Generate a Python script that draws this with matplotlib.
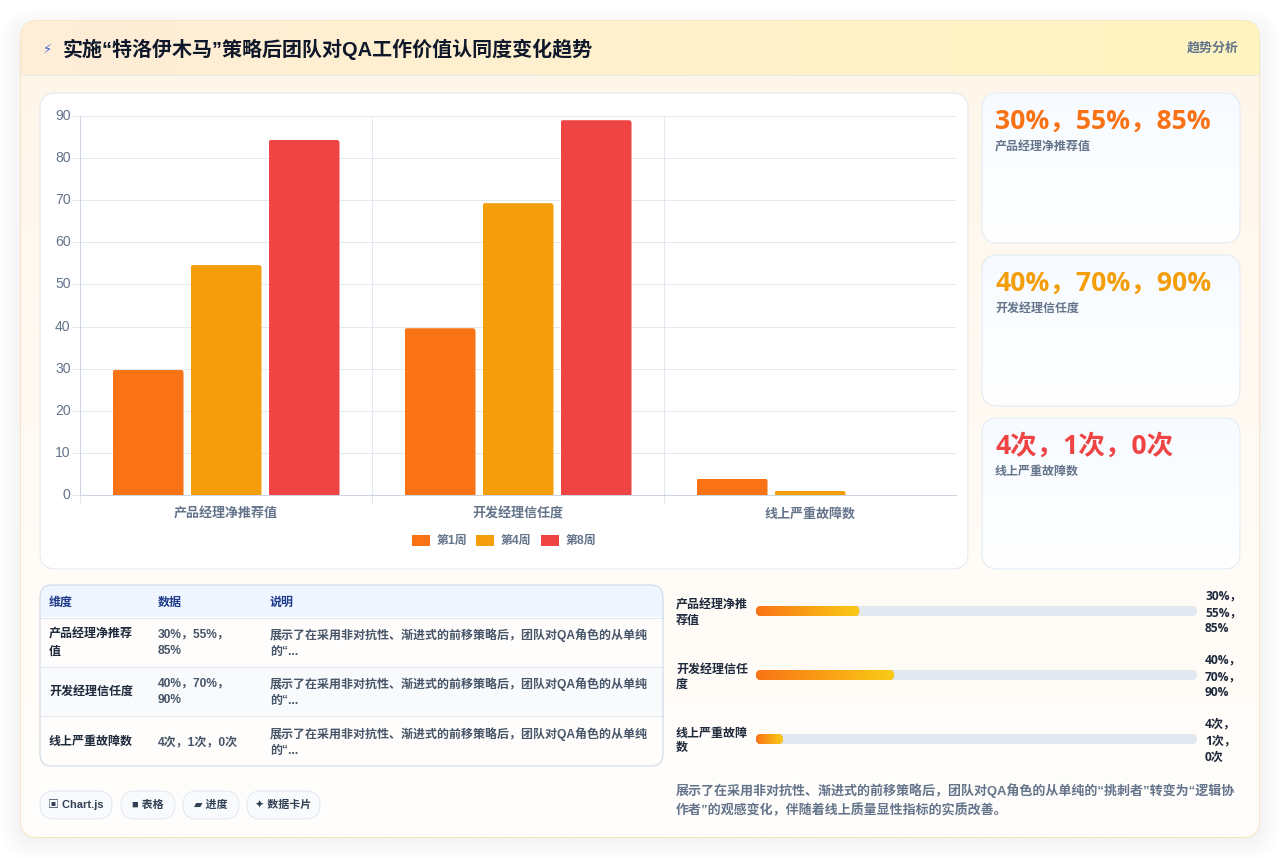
import numpy as np
import matplotlib
matplotlib.use('Agg')
import matplotlib.pyplot as plt
from matplotlib.colors import to_rgb
from matplotlib.patches import FancyBboxPatch, Rectangle
from matplotlib.transforms import ScaledTranslation

# data
categories = ['产品经理净推荐值', '开发经理信任度', '线上严重故障数']
weeks = ['第1周', '第4周', '第8周']
week1 = [29.7, 39.6, 3.9]
week4 = [54.6, 69.3, 1.0]
week8 = [84.3, 89.0, 0.0]
week_colors = ['#f97316', '#f59e0b', '#ef4444']
y_ticks = [0, 10, 20, 30, 40, 50, 60, 70, 80, 90]

card_values = ['30%，55%，85%', '40%，70%，90%', '4次，1次，0次']
progress_pct = [23.4, 31.3, 6.1]
progress_labels = ['产品经理净推\n荐值', '开发经理信任\n度', '线上严重故障\n数']
progress_values = ['30%，\n55%，\n85%', '40%，\n70%，\n90%', '4次，\n1次，\n0次']

table_head = ['维度', '数据', '说明']
table_dim = ['产品经理净推荐\n值', '开发经理信任度', '线上严重故障数']
table_data = ['30%，55%，\n85%', '40%，70%，\n90%', '4次，1次，0次']
table_note = '展示了在采用非对抗性、渐进式的前移策略后，团队对QA角色的从单纯\n的“...'

title = '实施“特洛伊木马”策略后团队对QA工作价值认同度变化趋势'
note = ('展示了在采用非对抗性、渐进式的前移策略后，团队对QA角色的从单纯的“挑刺者”转变为“逻辑协\n'
        '作者”的观感变化，伴随着线上质量显性指标的实质改善。')
pills = ['▣ Chart.js', '■ 表格', '▰ 进度', '✦ 数据卡片']

W, H = 1280, 858
UI = ['Liberation Sans', 'Noto Sans CJK SC', 'DejaVu Sans']
NUM = ['Open Sans', 'Noto Sans CJK SC']
plt.rcParams['font.family'] = UI


def px(n):
    return n * 0.72


fig = plt.figure(figsize=(W / 100, H / 100), dpi=100, facecolor='white')
bg = fig.add_axes([0, 0, 1, 1])
bg.set_xlim(0, W)
bg.set_ylim(H, 0)
bg.axis('off')


def box(x0, y0, x1, y1, r=0, fc='white', ec='none', lw=0.72, alpha=None, z=1):
    p = FancyBboxPatch((x0, y0), x1 - x0, y1 - y0, boxstyle=f'round,pad=0,rounding_size={r}',
                       fc=fc, ec=ec, lw=lw, alpha=alpha, zorder=z)
    bg.add_patch(p)
    return p


def gradient(x0, y0, x1, y1, c0, c1, clip, horizontal=False, z=2):
    t = np.linspace(0, 1, 200)[:, None]
    img = (1 - t) * np.array(to_rgb(c0)) + t * np.array(to_rgb(c1))
    img = img[None, :, :] if horizontal else img[:, None, :]
    im = bg.imshow(img, extent=(x0, x1, y1, y0), aspect='auto', zorder=z, interpolation='bilinear')
    im.set_clip_path(clip)
    bg.set_xlim(0, W)
    bg.set_ylim(H, 0)


def label(x, y, s, size=12, color='#475569', weight='normal', ha='left', va='center', family=None, ls=1.5, z=6):
    bg.text(x, y, s, fontsize=px(size), color=color, fontweight=weight, ha=ha, va=va,
            family=family or UI, linespacing=ls, zorder=z)


# outer card and shadow
for i in range(12):
    box(21 - i * 2, 30 - i * 2, 1259 + i * 2, 837 + i * 2 + 2, 16 + i * 2, fc='#555555', alpha=0.005, z=0.5)
card = box(21, 21, 1259, 837, 16, fc='#fffdfa', ec='#fbdcae', lw=1, z=1)
gradient(21, 21, 1259, 837, '#fff6ea', '#fffefc', card, z=1.1)
gradient(21, 21, 1259, 75, '#ffedd8', '#fef5c0', card, horizontal=True, z=1.2)
bg.plot([21, 1259], [75, 75], color='#e8e8e4', lw=0.72, zorder=2)
label(47, 49, '⚡', size=13, color='#3b5bdb', ha='center', family=['DejaVu Sans'])
label(63, 49, title, size=20, color='#0f172a', weight='bold')
label(1239, 48.5, '趋势分析', size=13, color='#64748b', weight='bold', ha='right')

# chart panel
box(40, 93, 968, 569, 16, fc='white', ec='#e2e8f0', z=2)

# stat cards
for (top, bottom), value, name, color in zip([(93, 243), (255, 406), (418, 569)], card_values, categories, week_colors):
    c = box(982, top, 1240, bottom, 16, fc='white', z=2)
    gradient(982, top, 1240, bottom, '#f7fbff', '#ffffff', c, z=2.1)
    box(982, top, 1240, bottom, 16, fc='none', ec='#e0eaf4', z=2.2)
    label(995, top + 28.5, value, size=26.5, color=color, weight='bold', family=NUM)
    label(995, top + 54, name, size=12, color='#64748b', weight='bold')

# table
tb = box(40, 585, 663, 766, 12, fc='white', z=2)
for y0, y1, fc in [(585, 617, '#eff6ff'), (617, 666, '#fffdfb'), (666, 715, '#f8fafc'), (715, 766, '#fffdfb')]:
    r = Rectangle((40, y0), 623, y1 - y0, fc=fc, ec='none', zorder=2.1)
    bg.add_patch(r)
    r.set_clip_path(tb)
box(40, 585, 663, 766, 12, fc='none', ec='#c9d6e6', z=2.3)
for y in [617.5, 666.5, 715.5]:
    bg.plot([40, 663], [y, y], color='#e2e8f0', lw=0.72, zorder=2.2)
for x, s in zip([49, 158, 270], table_head):
    label(x, 602.5, s, size=12, color='#1e3a8a', weight='bold')
for y, dim, val in zip([643, 692, 742], table_dim, table_data):
    label(49, y, dim, size=12, color='#1e293b', weight='bold')
    label(158, y, val, size=12, color='#475569', weight='bold')
    label(270, y, table_note, size=12, color='#475569', weight='bold')

# pills
for (x0, x1), s in zip([(40, 112), (121, 175), (183, 239), (247, 320)], pills):
    box(x0, 791, x1, 819, 14, fc='#f8fafc', ec='#e2e8f0', z=2)
    label((x0 + x1) / 2, 805, s, size=11, color='#334155', weight='bold', ha='center')

# progress bars
for y, pct, name, val in zip([611, 675, 739], progress_pct, progress_labels, progress_values):
    box(756, y - 5, 1197, y + 5, 5, fc='#e2e8f0', z=2)
    end = 756 + 441 * pct / 100
    f = box(756, y - 5, end, y + 5, 5, fc='#f97316', z=2.1)
    gradient(756, y - 5, end, y + 5, '#f97316', '#facc15', f, horizontal=True, z=2.2)
    label(676, y + 2, name, size=12, color='#1e293b', weight='bold', ls=1.3)
    label(1205, y + 1.5, val, size=12, color='#1e293b', weight='bold', family=NUM, ls=1.35)

label(676, 800, note, size=13, color='#64748b', weight='bold', ls=1.5)

# bar chart
ax = fig.add_axes([80 / W, 1 - 495 / H, 876 / W, 379 / H], facecolor='none')
x = np.arange(len(categories)) + 0.5
width = 71 / 292
step = 78 / 292
for i, (vals, name, color) in enumerate(zip([week1, week4, week8], weeks, week_colors)):
    bars = ax.bar(x + (i - 1) * step, vals, width, color=color, label=name, zorder=3)
    for b in bars:
        clip = FancyBboxPatch((b.get_x(), -5), b.get_width(), b.get_height() + 5,
                              boxstyle='round,pad=0,rounding_size=0.009', mutation_aspect=69,
                              transform=ax.transData, fc='none', ec='none')
        ax.add_patch(clip)
        b.set_clip_path(clip)

ax.set_xlim(0, 3)
ax.set_ylim(0, 90)
ax.set_yticks(y_ticks)
ax.set_xticks([0, 1, 2])
ax.set_xticklabels([])
ax.set_xticks(x, categories, minor=True)
ax.grid(True, which='major', color='#e2e8f0', lw=0.72, zorder=0)
ax.set_axisbelow(True)
ax.tick_params(axis='y', which='major', length=px(8), width=0.72, color='#e2e8f0', labelcolor='#64748b', labelsize=px(14), pad=1)
ax.tick_params(axis='x', which='major', length=px(8), width=0.72, color='#e2e8f0')
ax.tick_params(axis='x', which='minor', length=0, labelcolor='#64748b', labelsize=px(13), pad=9.2)
shift = ScaledTranslation(0, 1.5 / 100, fig.dpi_scale_trans)
for t in ax.get_yticklabels():
    t.set_transform(t.get_transform() + shift)
for t in ax.get_xticklabels(minor=True):
    t.set_fontweight('bold')
for s in ['top', 'right']:
    ax.spines[s].set_visible(False)
for s in ['left', 'bottom']:
    ax.spines[s].set_color('#cbd5e1')
    ax.spines[s].set_linewidth(0.72)

ax.legend(loc='center', bbox_to_anchor=((504 - 80) / 876, (495 - 541) / 379), ncols=3, frameon=False,
          handlelength=1.5, handleheight=1.0, handletextpad=0.55, columnspacing=0.75,
          prop={'weight': 'bold', 'size': px(12)}, labelcolor='#64748b')

fig.savefig('out.png', dpi=100, facecolor='white')
